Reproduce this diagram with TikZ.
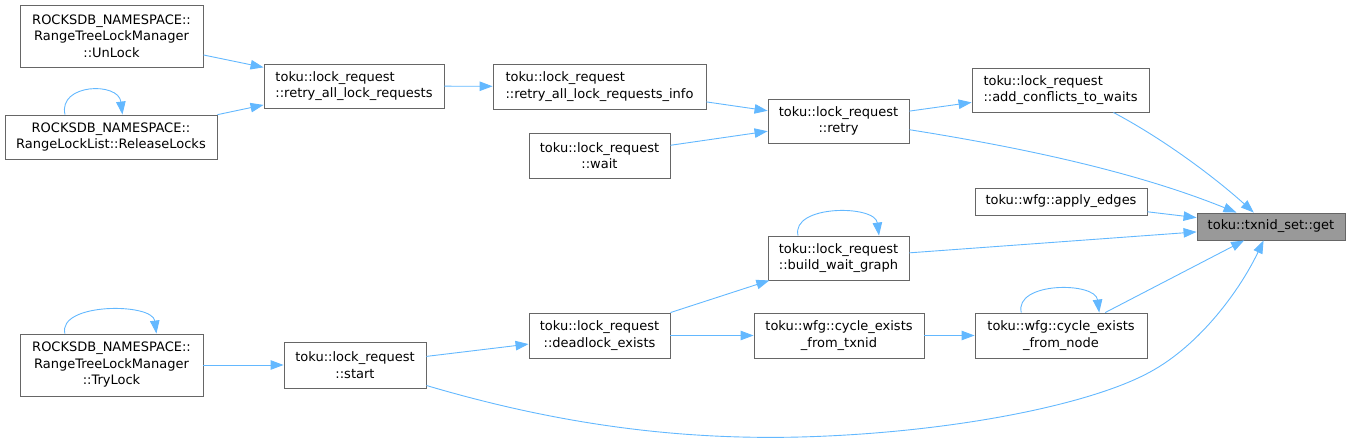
\documentclass[tikz,border=0pt]{standalone}
\usepackage{fontspec}
\setmainfont{DejaVu Sans}
\usepackage{xcolor}
\definecolor{DOXedge}{HTML}{63B8FF}
\definecolor{DOXframe}{HTML}{666666}
\definecolor{DOXroot}{HTML}{999999}
\usepackage{tikz}
\usetikzlibrary{arrows.meta}

\begin{document}
\begin{tikzpicture}[x=1pt, y=1pt,
  box/.style 2 args={draw=DOXframe, fill=white, line width=0.9pt, inner sep=0pt,
    minimum width=#1, minimum height=#2, align=center,
    font=\fontsize{13}{16.5}\selectfont},
  call/.style={draw=DOXedge, line width=0.9pt, -{Triangle[length=13pt, width=9.5pt]}}]
\useasboundingbox (0,0) rectangle (1351,-442);

% Callers on the far left
\node[box={183pt}{62pt}] (unlock) at (111.5,-36) {ROCKSDB\_NAMESPACE::\\RangeTreeLockManager\\::UnLock};
\node[box={212pt}{44pt}] (release) at (111,-137) {ROCKSDB\_NAMESPACE::\\RangeLockList::ReleaseLocks};
\node[box={183pt}{62pt}] (trylock) at (111.5,-365) {ROCKSDB\_NAMESPACE::\\RangeTreeLockManager\\::TryLock};

% Second column
\node[box={180pt}{44pt}, align=left] (retryall) at (354,-86) {toku::lock\_request\\::retry\_all\_lock\_requests};
\node[box={142pt}{46pt}] (start) at (355,-365) {toku::lock\_request\\::start};

% Third column
\node[box={213pt}{45pt}, align=left] (retryinfo) at (599.5,-86.5) {toku::lock\_request\\::retry\_all\_lock\_requests\_info};
\node[box={141pt}{45pt}] (wait) at (599.5,-155.5) {toku::lock\_request\\::wait};
\node[box={141pt}{45pt}] (deadlock) at (599.5,-335.5) {toku::lock\_request\\::deadlock\_exists};

% Fourth column
\node[box={141pt}{44pt}] (retry) at (838.5,-121) {toku::lock\_request\\::retry};
\node[box={141pt}{44pt}] (buildwait) at (838.5,-258) {toku::lock\_request\\::build\_wait\_graph};
\node[box={170pt}{45pt}] (cyctxnid) at (839,-335.5) {toku::wfg::cycle\_exists\\\_from\_txnid};

% Fifth column
\node[box={177pt}{44pt}, align=left] (addconf) at (1060.5,-90) {toku::lock\_request\\::add\_conflicts\_to\_waits};
\node[box={172pt}{27pt}] (applyedges) at (1061,-201.5) {toku::wfg::apply\_edges};
\node[box={172pt}{45pt}] (cycnode) at (1061,-335.5) {toku::wfg::cycle\_exists\\\_from\_node};

% The function itself
\node[box={148pt}{27pt}, fill=DOXroot] (get) at (1271,-226.5) {toku::txnid\_set::get};

% Straight calls
\draw[call] (unlock) -- (retryall);
\draw[call] (release) -- (retryall);
\draw[call] (retryall) -- (retryinfo);
\draw[call] (retryinfo) -- (retry);
\draw[call] (wait) -- (retry);
\draw[call] (retry) -- (addconf);
\draw[call] (applyedges) -- (get);
\draw[call] (buildwait) -- (get);
\draw[call] (deadlock) -- (buildwait);
\draw[call] (deadlock) -- (cyctxnid);
\draw[call] (cyctxnid) -- (cycnode);
\draw[call] (cycnode) -- (get);
\draw[call] (start) -- (deadlock);
\draw[call] (trylock) -- (start);

% Curved calls
\draw[call] (addconf.-23) .. controls +(-28:60) and +(138:50) .. (get.141);
\draw[call] (retry.-7) .. controls +(-9:130) and +(158:100) .. (get.158);
\draw[call] (start.-16) .. controls (560,-425) and (680,-440) .. (800,-437)
  .. controls (950,-433) and (1090,-405) .. (1150,-372)
  .. controls (1200,-345) and (1240,-290) .. (get.-118);

% Recursive calls
\draw[call] (release.154) .. controls +(-7,31) and +(-4,33) .. (release.63);
\draw[call] (trylock.146) .. controls +(-7,31) and +(-4,31) .. (trylock.35);
\draw[call] (buildwait.151) .. controls +(-7,31) and +(-4,31) .. (buildwait.29);
\draw[call] (cycnode.150) .. controls +(-7,31) and +(-4,31) .. (cycnode.31);
\end{tikzpicture}
\end{document}
